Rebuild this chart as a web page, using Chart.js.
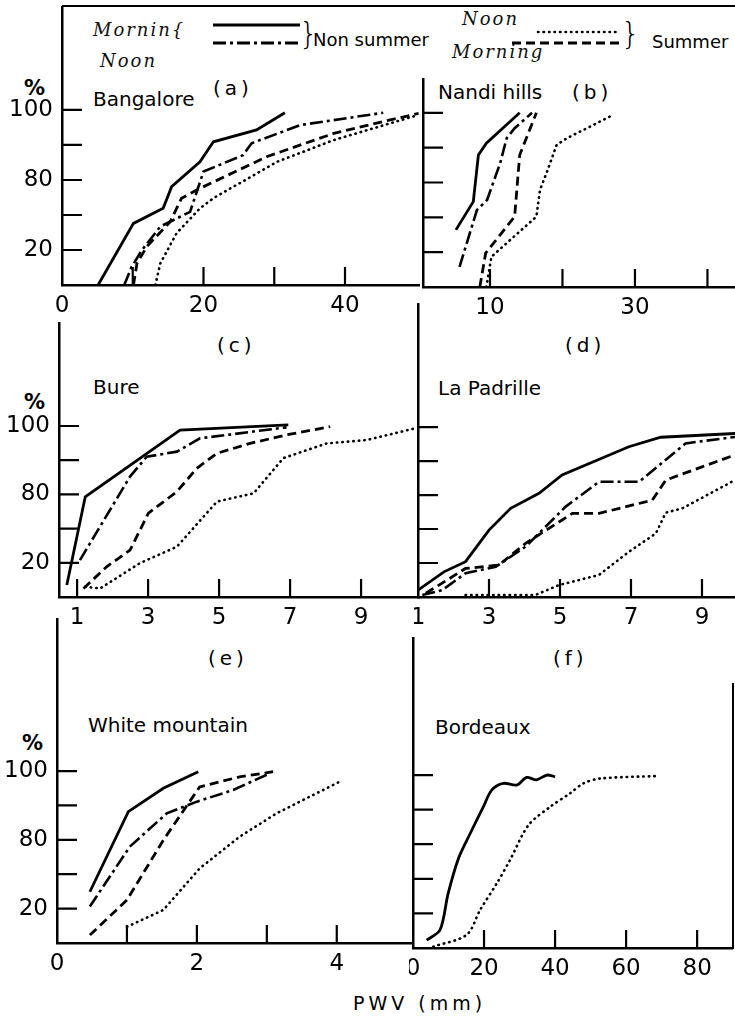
<!DOCTYPE html>
<html>
<head>
<meta charset="utf-8">
<script src="https://cdn.jsdelivr.net/npm/chart.js@4.4.0/dist/chart.umd.min.js"></script>
<style>
  body { margin: 0; background: #fff; width: 735px; height: 1017px; position: relative; overflow: hidden;
         font-family: "DejaVu Sans", sans-serif; color: #000; }
  .box { position: absolute; }
  .t { position: absolute; white-space: nowrap; line-height: 1; transform: translateY(-50%); }
  .name { font-size: 20px; }
  .tag { font-size: 20px; letter-spacing: 4px; }
  .pct { font-size: 21px; font-weight: bold; }
  .hand { font-family: "DejaVu Serif", serif; font-style: italic; font-size: 18px; letter-spacing: 2px; color: #111; }
  .brace { font-size: 30px; font-weight: 300; }
  .rule { position: absolute; background: #000; }
</style>
</head>
<body>

<!-- frame and legend -->
<div class="rule" style="left:62px; top:5px; width:673px; height:2px;"></div>
<div class="rule" style="left:732px; top:683px; width:2px; height:266px;"></div>

<div class="t hand" style="left:93px; top:30px;">Mornin{</div>
<div class="t hand" style="left:100px; top:61px;">Noon</div>
<svg class="box" style="left:205px; top:14px;" width="105" height="40">
  <line x1="8" y1="11" x2="95" y2="11" stroke="#000" stroke-width="3"/>
  <line x1="8" y1="29" x2="95" y2="29" stroke="#000" stroke-width="3" stroke-dasharray="13 4 3 4"/>
</svg>
<div class="t brace" style="left:299px; top:34px;">}</div>
<div class="t" style="left:313px; top:40px; font-size:18px;">Non summer</div>

<div class="t hand" style="left:462px; top:19px;">Noon</div>
<div class="t hand" style="left:452px; top:52px;">Morning</div>
<svg class="box" style="left:505px; top:20px;" width="125" height="32">
  <line x1="33" y1="12" x2="115" y2="12" stroke="#000" stroke-width="2.6" stroke-dasharray="0.5 5" stroke-linecap="round"/>
  <line x1="7" y1="23" x2="117" y2="23" stroke="#000" stroke-width="3" stroke-dasharray="9 5"/>
</svg>
<div class="t brace" style="left:621px; top:34px;">}</div>
<div class="t" style="left:652px; top:42px; font-size:18px;">Summer</div>

<!-- panel captions -->
<div class="t pct" style="left:24px; top:88px;">%</div>
<div class="t name" style="left:93px; top:99px;">Bangalore</div>
<div class="t tag" style="left:213px; top:88px;">(a)</div>
<div class="t name" style="left:438px; top:92px;">Nandi hills</div>
<div class="t tag" style="left:572px; top:92px;">(b)</div>

<div class="t tag" style="left:217px; top:345px;">(c)</div>
<div class="t name" style="left:93px; top:387px;">Bure</div>
<div class="t pct" style="left:24px; top:402px;">%</div>
<div class="t tag" style="left:565px; top:345px;">(d)</div>
<div class="t name" style="left:438px; top:388px;">La Padrille</div>

<div class="t tag" style="left:208px; top:658px;">(e)</div>
<div class="t name" style="left:88px; top:725px;">White mountain</div>
<div class="t pct" style="left:22px; top:743px;">%</div>
<div class="t tag" style="left:553px; top:658px;">(f)</div>
<div class="t name" style="left:435px; top:727px;">Bordeaux</div>

<div class="t" style="left:353px; top:1003px; font-size:19px; letter-spacing:4px;">PWV (mm)</div>

<div class="box" id="wa"><canvas id="ca"></canvas></div>
<div class="box" id="wb"><canvas id="cb"></canvas></div>
<div class="box" id="wc"><canvas id="cc"></canvas></div>
<div class="box" id="wd"><canvas id="cd"></canvas></div>
<div class="box" id="we"><canvas id="ce"></canvas></div>
<div class="box" id="wf"><canvas id="cf"></canvas></div>

<script>
// y values are positions on the cumulative-% axis: 0 = axis, 1 = "20", 3 = "80", 5 = "100"
const yTickValues = [1, 2, 3, 4, 5];
const yLabelValues = [1, 3, 5];
const yLabels = ['20', '80', '100'];

// (a) Bangalore, PWV mm
const aMorningNS = [[5.1,0],[10.1,1.76],[14.3,2.19],[15.5,2.81],[19.5,3.52],[21.4,4.09],[27.5,4.43],[31.5,4.92]];
const aNoonNS = [[8.8,0],[9.85,0.52],[11.3,1.0],[13.9,1.67],[16.7,1.95],[18.1,2.09],[20.0,3.24],[25.6,3.71],[26.8,4.05],[33.7,4.57],[45.4,4.92]];
const aMorningS = [[10.1,0],[10.6,0.62],[12.0,1.1],[15.3,1.81],[16.9,2.48],[19.5,2.76],[29.0,3.67],[38.4,4.33],[45.4,4.67],[50.4,4.9]];
const aNoonS = [[13.2,0],[13.9,0.62],[16.2,1.48],[19.5,2.19],[21.4,2.48],[30.4,3.52],[38.4,4.14],[50.4,4.86]];
const aXTicks = [10, 20, 30, 40];
const aXLabelValues = [0, 20, 40];
const aXLabels = ['0', '20', '40'];

// (b) Nandi hills
const bMorningNS = [[5.3,1.64],[7.7,2.45],[8.4,3.79],[9.5,4.13],[14.1,5.0]];
const bNoonNS = [[5.8,0.58],[8.2,2.21],[9.6,2.5],[11.4,3.55],[12.3,4.27],[13.4,4.56],[15.8,5.0]];
const bMorningS = [[8.6,0],[9.4,0.97],[13.4,2.02],[14.1,3.79],[16.4,5.0]];
const bNoonS = [[9.5,0],[10.2,0.87],[16.4,2.02],[16.9,2.79],[17.8,3.27],[19.2,4.08],[20.6,4.27],[27.0,4.94]];
const bXTicks = [10, 20, 30, 40];
const bXLabelValues = [10, 30];
const bXLabels = ['10', '30'];

// (c) Bure
const cMorningNS = [[0.71,0.35],[1.23,2.93],[3.9,4.88],[6.95,5.03]];
const cNoonNS = [[1.08,1.08],[2.49,3.52],[2.96,4.1],[3.81,4.25],[4.46,4.64],[6.9,4.96]];
const cMorningS = [[1.18,0.25],[1.84,0.89],[2.49,1.37],[3.01,2.45],[3.81,3.08],[4.37,3.76],[4.94,4.2],[5.87,4.49],[6.9,4.74],[8.13,4.98]];
const cNoonS = [[1.23,0.3],[1.65,0.25],[2.77,0.99],[3.81,1.47],[4.94,2.79],[5.97,3.03],[6.81,4.06],[8.03,4.49],[9.16,4.59],[10.52,4.93]];
const cXTicks = [1, 3, 5, 7, 9];
const cXLabelValues = [1, 3, 5, 7, 9];
const cXLabels = ['1', '3', '5', '7', '9'];

// (d) La Padrille
const dMorningNS = [[1.0,0.2],[1.73,0.74],[2.34,1.04],[3.0,1.97],[3.61,2.61],[4.41,3.05],[5.06,3.59],[6.94,4.42],[7.84,4.7],[9.93,4.81]];
const dNoonNS = [[1.12,0.06],[1.68,0.2],[2.34,0.7],[3.19,0.89],[4.03,1.48],[5.16,2.66],[6.1,3.39],[7.23,3.39],[8.54,4.52],[9.93,4.71]];
const dMorningS = [[1.22,0.11],[2.34,0.84],[3.28,0.94],[4.03,1.58],[5.35,2.46],[6.1,2.46],[7.6,2.85],[7.98,3.44],[9.0,3.83],[9.93,4.18]];
const dNoonS = [[2.34,0.06],[4.31,0.06],[4.97,0.35],[6.1,0.65],[6.94,1.33],[7.7,1.87],[7.98,2.48],[8.45,2.61],[9.93,3.44]];
const dXTicks = [3, 5, 7, 9];
const dXLabelValues = [1, 3, 5, 7, 9];
const dXLabels = ['1', '3', '5', '7', '9'];

// (e) White mountain
const eMorningNS = [[0.47,1.49],[1.02,3.82],[1.52,4.5],[2.02,4.98]];
const eNoonNS = [[0.47,1.06],[1.04,2.8],[1.57,3.77],[2.0,4.11],[2.52,4.45],[3.04,4.93]];
const eMorningS = [[0.47,0.23],[1.0,1.25],[1.52,2.99],[2.04,4.54],[2.61,4.83],[3.09,4.98]];
const eNoonS = [[1.0,0.47],[1.52,0.96],[2.04,2.17],[2.61,3.09],[3.14,3.77],[4.04,4.69]];
const eXTicks = [1, 2, 3, 4];
const eXLabelValues = [0, 2, 4];
const eXLabels = ['0', '2', '4'];

// (f) Bordeaux
const fMorningNS = [[3.85,0.23],[7.6,0.52],[9.9,1.58],[12.8,2.59],[16.1,3.31],[19.8,4.08],[22.2,4.57],[25.4,4.76],[29.2,4.71],[32.0,4.93],[34.8,4.86],[37.7,5.0],[40.0,4.95]];
const fNoonS = [[5.7,0.04],[15.1,0.38],[18.9,1.1],[23.6,1.87],[27.3,2.54],[32.5,3.55],[38.6,4.08],[44.2,4.47],[48.0,4.76],[52.7,4.9],[68.6,4.97]];
const fXTicks = [20, 40, 60, 80];
const fXLabelValues = [0, 20, 40, 60, 80];
const fXLabels = ['0', '20', '40', '60', '80'];

const X_H = 40;

// line styles for the four series
const styles = {
  morningNS: { borderDash: [], borderWidth: 2.8 },
  noonNS: { borderDash: [13, 4, 3, 4], borderWidth: 2.6 },
  morningS: { borderDash: [9, 5], borderWidth: 2.8 },
  noonS: { borderDash: [0.5, 5], borderWidth: 2.6, borderCapStyle: 'round' }
};

// tick marks that point into the plot, like the printed figure
const inTicks = {
  id: 'inTicks',
  afterDatasetsDraw(chart, args, opts) {
    const { ctx, chartArea: a, scales: { x, y } } = chart;
    ctx.save();
    ctx.strokeStyle = '#000';
    ctx.lineWidth = 2.2;
    ctx.beginPath();
    opts.x.forEach(v => {
      const px = x.getPixelForValue(v);
      ctx.moveTo(px, a.bottom);
      ctx.lineTo(px, a.bottom - 18);
    });
    yTickValues.forEach(v => {
      const py = y.getPixelForValue(v);
      ctx.moveTo(a.left, py);
      ctx.lineTo(a.left + 20, py);
    });
    ctx.stroke();
    ctx.restore();
  }
};

function panel(id, area, xMin, xMax, yMax, xTicks, xLabelValues, xLabels, showY, series) {
  const yW = showY ? area.left : 4;
  const wrap = document.getElementById('w' + id);
  wrap.style.left = (area.left - yW) + 'px';
  wrap.style.top = area.top + 'px';
  wrap.style.width = (area.right - area.left + yW) + 'px';
  wrap.style.height = (area.bottom - area.top + X_H) + 'px';

  const font = { family: 'DejaVu Sans', size: 23 };
  new Chart(document.getElementById('c' + id), {
    type: 'line',
    data: {
      datasets: series.map(s => Object.assign({
        data: s.data.map(p => ({ x: p[0], y: p[1] })),
        borderColor: '#000',
        pointRadius: 0,
        tension: s.tension || 0,
        fill: false
      }, styles[s.style]))
    },
    options: {
      responsive: true,
      maintainAspectRatio: false,
      animation: false,
      layout: { padding: 0 },
      plugins: { legend: { display: false }, tooltip: { enabled: false }, inTicks: { x: xTicks } },
      scales: {
        x: {
          type: 'linear', min: xMin, max: xMax,
          grid: { display: false, drawTicks: false },
          border: { display: true, color: '#000', width: 2.5 },
          afterBuildTicks: s => { s.ticks = xLabelValues.map(v => ({ value: v })); },
          afterFit: s => { s.height = X_H; s.paddingLeft = 0; s.paddingRight = 0; },
          ticks: { autoSkip: false, maxRotation: 0, padding: 7, color: '#000', font,
                   callback: (v, i) => xLabels[i] }
        },
        y: {
          type: 'linear', min: 0, max: yMax,
          grid: { display: false, drawTicks: false },
          border: { display: true, color: '#000', width: 2.5 },
          afterBuildTicks: s => { s.ticks = yLabelValues.map(v => ({ value: v })); },
          afterFit: s => { s.width = yW; s.paddingTop = 0; s.paddingBottom = 0; },
          ticks: { display: showY, autoSkip: false, padding: 9, color: '#000', font,
                   callback: (v, i) => yLabels[i] }
        }
      }
    },
    plugins: [inTicks]
  });
}

panel('a', { left: 62, top: 6, right: 420, bottom: 285 }, 0, 50.6, 7.97, aXTicks, aXLabelValues, aXLabels, true, [
  { data: aMorningNS, style: 'morningNS' }, { data: aNoonNS, style: 'noonNS' },
  { data: aMorningS, style: 'morningS' }, { data: aNoonS, style: 'noonS' }]);

panel('b', { left: 423, top: 78, right: 735, bottom: 287 }, 0.76, 43.8, 6.0, bXTicks, bXLabelValues, bXLabels, false, [
  { data: bMorningNS, style: 'morningNS' }, { data: bNoonNS, style: 'noonNS' },
  { data: bMorningS, style: 'morningS' }, { data: bNoonS, style: 'noonS' }]);

panel('c', { left: 59, top: 322, right: 420, bottom: 597 }, 0.49, 10.66, 8.04, cXTicks, cXLabelValues, cXLabels, true, [
  { data: cMorningNS, style: 'morningNS' }, { data: cNoonNS, style: 'noonNS' },
  { data: cMorningS, style: 'morningS' }, { data: cNoonS, style: 'noonS' }]);

panel('d', { left: 418, top: 303, right: 735, bottom: 597 }, 1.0, 9.93, 8.65, dXTicks, dXLabelValues, dXLabels, false, [
  { data: dMorningNS, style: 'morningNS' }, { data: dNoonNS, style: 'noonNS' },
  { data: dMorningS, style: 'morningS' }, { data: dNoonS, style: 'noonS' }]);

panel('e', { left: 57, top: 618, right: 413, bottom: 943 }, 0, 5.09, 9.45, eXTicks, eXLabelValues, eXLabels, true, [
  { data: eMorningNS, style: 'morningNS' }, { data: eNoonNS, style: 'noonNS' },
  { data: eMorningS, style: 'morningS' }, { data: eNoonS, style: 'noonS' }]);

panel('f', { left: 413, top: 637, right: 733, bottom: 948 }, 0, 90.1, 8.99, fXTicks, fXLabelValues, fXLabels, false, [
  { data: fMorningNS, style: 'morningNS', tension: 0.3 }, { data: fNoonS, style: 'noonS', tension: 0.3 }]);
</script>
</body>
</html>
